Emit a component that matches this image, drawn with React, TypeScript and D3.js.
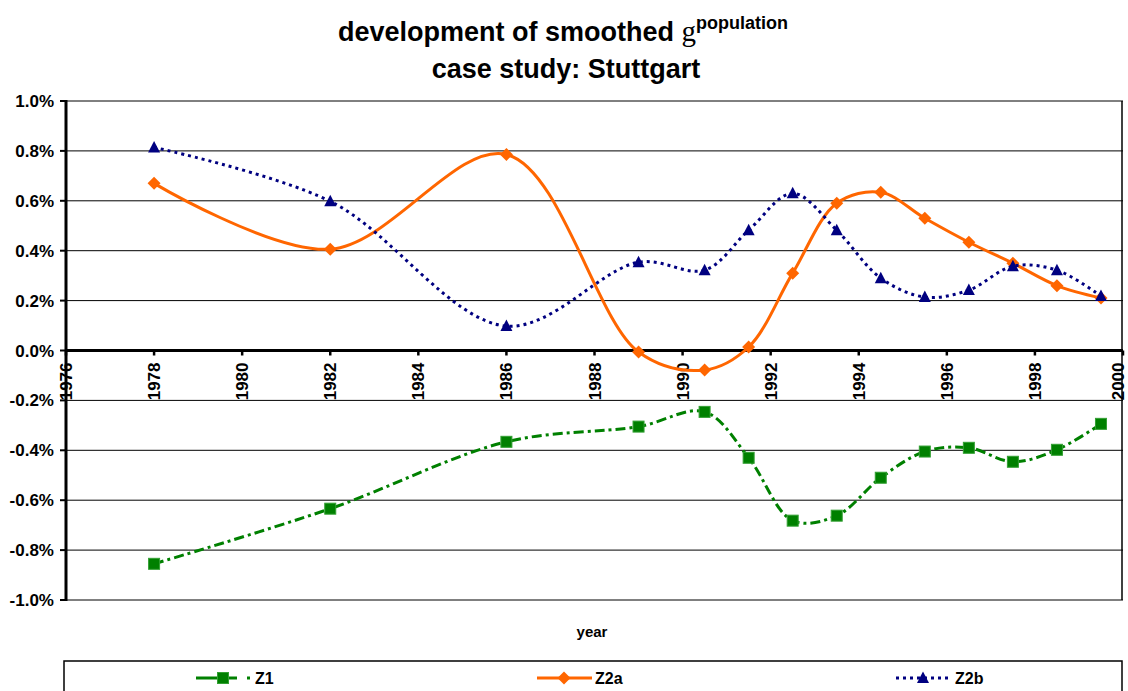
import React from 'react';
import * as d3 from 'd3';

// years of the smoothed observations
const years = [1978, 1982, 1986, 1989, 1990.5, 1991.5, 1992.5, 1993.5, 1994.5, 1995.5, 1996.5, 1997.5, 1998.5, 1999.5];
// growth rates in percent
const z1 = [-0.855, -0.634, -0.366, -0.305, -0.246, -0.43, -0.682, -0.662, -0.51, -0.405, -0.39, -0.446, -0.398, -0.294];
const z2a = [0.67, 0.406, 0.786, -0.006, -0.078, 0.014, 0.31, 0.59, 0.634, 0.53, 0.434, 0.35, 0.26, 0.21];
const z2b = [0.814, 0.598, 0.098, 0.354, 0.322, 0.482, 0.63, 0.482, 0.29, 0.214, 0.242, 0.338, 0.322, 0.218];
const yTicks = [-1.0, -0.8, -0.6, -0.4, -0.2, 0, 0.2, 0.4, 0.6, 0.8, 1.0];
const xTicks = d3.range(1976, 2001, 2);

const seriesList = [
  { name: 'Z1', values: z1, color: '#008000', dash: '10,4,3,4', marker: 'square' },
  { name: 'Z2a', values: z2a, color: '#ff6600', dash: '', marker: 'diamond' },
  { name: 'Z2b', values: z2b, color: '#000080', dash: '3,4', marker: 'triangle' },
];

const left = 66, right = 1123, top = 101, bottom = 600;
const FONT = '"Liberation Sans", Arial, sans-serif';

function Marker({ type, x, y, color }: { type: string; x: number; y: number; color: string }) {
  if (type === 'square') {
    return <rect x={x - 5.5} y={y - 5.5} width={11} height={11} fill={color} stroke="#33a033" strokeWidth={1} />;
  }
  if (type === 'diamond') {
    return <path d={`M${x},${y - 6.5}L${x + 6.5},${y}L${x},${y + 6.5}L${x - 6.5},${y}Z`} fill={color} />;
  }
  return <path d={`M${x},${y - 6.5}L${x + 6},${y + 5}L${x - 6},${y + 5}Z`} fill={color} />;
}

export default function App() {
  const x = d3.scaleLinear().domain([1976, 2000]).range([left, right]);
  const y = d3.scaleLinear().domain([-1, 1]).range([bottom, top]);
  const line = d3
    .line<number>()
    .x((_, i) => x(years[i]))
    .y((d) => y(d))
    .curve(d3.curveCatmullRom.alpha(0.5));
  const fmt = (v: number) => d3.format('.1f')(v).replace('−', '-') + '%';

  const legendItems = [
    { s: seriesList[0], x0: 196, tx: 255 },
    { s: seriesList[1], x0: 537, tx: 595 },
    { s: seriesList[2], x0: 896, tx: 955 },
  ];

  return (
    <svg width={1128} height={691} style={{ position: 'absolute', left: 0, top: 0, background: '#fff' }} fontFamily={FONT}>
      {/* title */}
      <text x={563} y={41} textAnchor="middle" fontSize={27} fontWeight="bold">
        development of smoothed{' '}
        <tspan fontFamily='"Liberation Serif", "Times New Roman", serif' fontWeight="normal" fontSize={29}>g</tspan>
        <tspan fontSize={18} dy={-12}>population</tspan>
      </text>
      <text x={566} y={78} textAnchor="middle" fontSize={27} fontWeight="bold">
        case study: Stuttgart
      </text>

      {/* gridlines */}
      {yTicks.map((t) => (
        <g key={t}>
          <line x1={left} x2={right} y1={y(t)} y2={y(t)} stroke="#000" strokeWidth={t === 0 ? 3 : 1} />
          <line x1={left - 6} x2={left} y1={y(t)} y2={y(t)} stroke="#000" strokeWidth={2} />
          <text x={54} y={y(t) + 6} textAnchor="end" fontSize={17} fontWeight="bold">
            {fmt(t)}
          </text>
        </g>
      ))}
      <line x1={right - 1} x2={right - 1} y1={top} y2={bottom} stroke="#000" strokeWidth={1.5} />
      <line x1={left} x2={left} y1={top - 1} y2={bottom + 1} stroke="#000" strokeWidth={3} />

      {/* x ticks on the zero line */}
      {xTicks.map((t) => (
        <g key={t}>
          <line x1={x(t)} x2={x(t)} y1={y(0)} y2={y(0) + 5} stroke="#000" strokeWidth={2.5} />
          <text
            transform={`translate(${Math.min(x(t) + 6, 1124)},${y(0) + 12}) rotate(-90)`}
            textAnchor="end"
            fontSize={17}
            fontWeight="bold"
          >
            {t}
          </text>
        </g>
      ))}

      {/* series */}
      {seriesList.map((s) => (
        <g key={s.name}>
          <path d={line(s.values) || ''} fill="none" stroke={s.color} strokeWidth={3} strokeDasharray={s.dash || undefined} />
          {s.values.map((v, i) => (
            <Marker key={i} type={s.marker} x={x(years[i])} y={y(v)} color={s.color} />
          ))}
        </g>
      ))}

      <text x={592} y={637} textAnchor="middle" fontSize={15} fontWeight="bold">
        year
      </text>

      {/* legend */}
      <rect x={64} y={661} width={1058} height={40} fill="#fff" stroke="#000" strokeWidth={1.5} />
      {legendItems.map(({ s, x0, tx }) => (
        <g key={s.name}>
          <line
            x1={x0}
            x2={x0 + 55}
            y1={678}
            y2={678}
            stroke={s.color}
            strokeWidth={3}
            strokeDasharray={s.name === 'Z1' ? '41,10,3,4' : s.dash || undefined}
          />
          <Marker type={s.marker} x={x0 + 27} y={678} color={s.color} />
          <text x={tx} y={684} fontSize={16} fontWeight="bold">
            {s.name}
          </text>
        </g>
      ))}
    </svg>
  );
}
